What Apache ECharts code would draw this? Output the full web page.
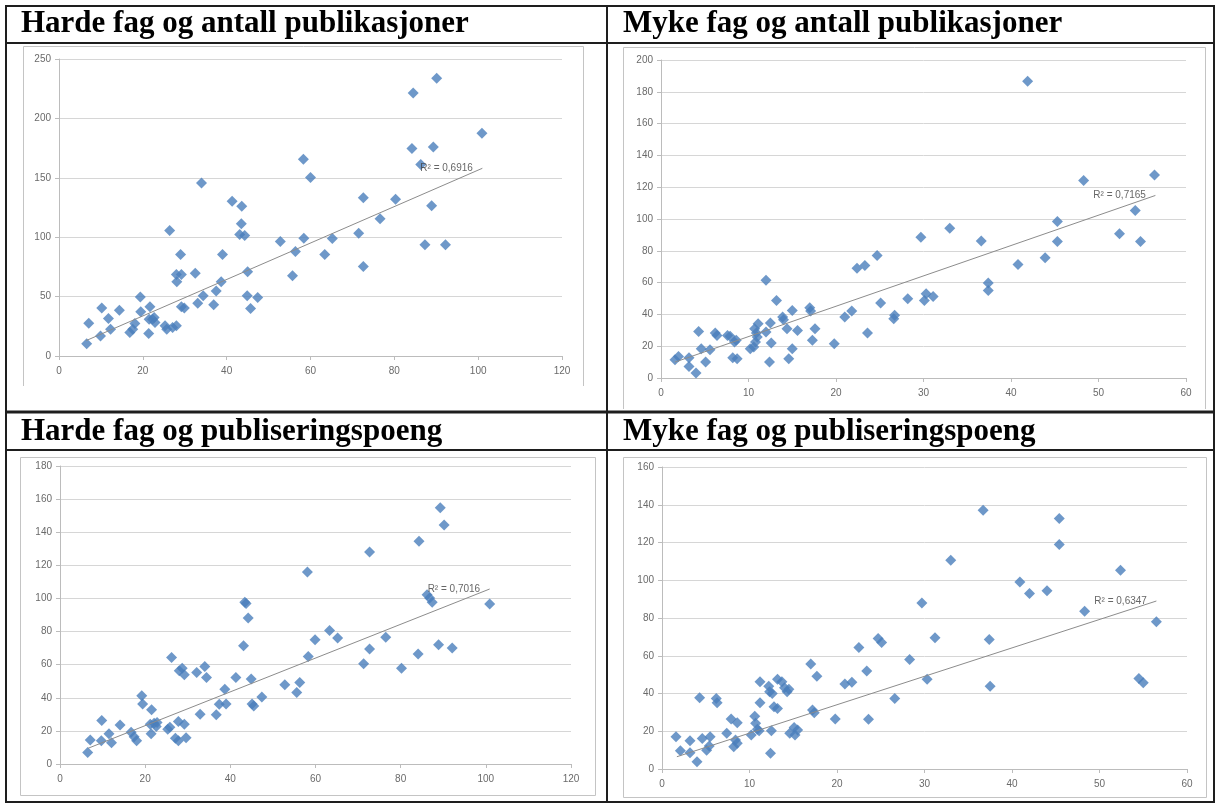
<!DOCTYPE html>
<html><head><meta charset="utf-8">
<script src="https://cdn.jsdelivr.net/npm/echarts/dist/echarts.min.js"></script>
<style>html,body{margin:0;padding:0;background:#fff}#c{width:1216px;height:803px}</style>
</head><body><div id="c"></div><script>
// ---- titles ----
var titles = ['Harde fag og antall publikasjoner','Myke fag og antall publikasjoner','Harde fag og publiseringspoeng','Myke fag og publiseringspoeng'];
var r2Labels = ['R\u00b2 = 0,6916','R\u00b2 = 0,7165','R\u00b2 = 0,7016','R\u00b2 = 0,6347'];

// ---- Harde fag og antall publikasjoner ----
var hardPubX = [6.6,7.1,9.9,10.2,11.8,12.3,14.4,16.9,17.6,18.1,19.4,19.5,21.4,21.5,21.7,22.3,22.7,22.9,25.3,25.7,26.4,27.1,28,28,28.1,29,29.2,29.2,29.9,32.5,33.1,34,34.4,36.9,37.5,38.7,39,41.3,43.1,43.5,43.6,44.3,44.9,45,45.7,47.4,52.8,55.7,56.4,58.3,58.4,60,63.4,65.2,71.5,72.6,72.6,76.6,80.3,84.2,84.5,86.3,87.3,88.9,89.3,90.1,92.2,100.9];
var hardPubY = [10.4,27.6,16.9,40.3,31.6,22.5,38.6,19.7,22.5,27.3,49.6,37.2,18.9,31,41.4,31,32.4,28.2,25.4,22.5,105.7,24,25.4,68.5,62.6,85.4,68.5,41.4,40.3,69.6,44.5,145.7,50.7,43.1,54.7,62.6,85.4,130.2,102.3,111.3,126,101.5,50.7,71,40,49.3,96.4,67.6,87.9,165.7,99.2,150.2,85.4,98.9,103.4,133.3,75.3,115.6,131.9,174.7,221.3,161.2,93.6,126.5,175.9,233.9,93.6,187.4];

// ---- Myke fag og antall publikasjoner ----
var softPubX = [1.6,2,3.2,3.2,4,4.3,4.6,5.1,5.6,6.2,6.4,7.6,7.9,8.2,8.4,8.6,8.7,10.2,10.6,10.7,10.8,10.9,11,11.1,12,12,12.4,12.5,12.6,13.2,13.9,14,14.4,14.6,15,15,15.6,17,17.1,17.3,17.6,19.8,21,21.8,22.4,23.3,23.6,24.7,25.1,26.6,26.7,28.2,29.7,30.1,30.3,31.1,33,36.6,37.4,37.4,40.8,41.9,43.9,45.3,45.3,48.3,52.4,54.2,54.8,56.4];
var softPubY = [11.5,13.6,12.8,7.3,3.1,29.3,18.4,10,17.8,28.3,26.8,26.8,26.2,12.8,22.6,23.7,12.1,18.4,19.5,31,22.6,28.3,25.8,34.1,61.4,28.9,10,34.6,22,48.8,38.3,36.6,31,12.1,42.5,18.4,29.9,44.2,42.1,23.7,31,21.6,38.3,42.1,69.1,70.8,28.3,77.1,47.1,37.3,39.4,49.8,88.6,48.8,53,51.3,94.2,86.1,59.7,55.1,71.4,186.6,75.6,98.4,85.9,124.2,90.7,105.3,85.9,127.7];

// ---- Harde fag og publiseringspoeng ----
var hardPoengX = [6.5,7.1,9.7,9.8,11.5,12.1,14.1,16.7,17.4,18,19.2,19.4,21.4,21.2,21.5,22.1,22.6,22.8,25.3,25.8,26.2,27.1,27.8,27.8,28,28.7,29.2,29.2,29.6,32.1,32.9,34,34.4,36.7,37.4,38.7,39,41.3,43.1,43.4,43.7,44.2,44.9,45.1,45.5,47.4,52.8,55.6,56.3,58.1,58.3,59.9,63.3,65.2,71.3,72.7,72.7,76.5,80.2,84.1,84.3,86.2,86.8,87.4,88.9,89.3,90.2,92.1,100.9];
var hardPoengY = [6.9,14.5,14.1,26.2,18.2,12.9,23.6,19.2,16.5,14.1,41.2,36.3,18.2,24,32.7,24.6,22.6,25,21,22.2,64.4,15.5,14.1,25.6,56.3,57.9,53.9,24,15.9,55.3,30,58.9,52.3,29.7,36.1,45.2,36.3,52.3,71.4,97.7,96.9,88.2,51.3,36.3,35.1,40.4,47.8,43.2,49.2,116,65,75.1,80.7,76.1,60.5,128.1,69.4,76.5,57.9,66.4,134.6,102.3,100.3,97.7,72,154.8,144.3,70,96.7];

// ---- Myke fag og publiseringspoeng ----
var softPoengX = [1.6,2.1,3.2,3.2,4,4.3,4.6,5.1,5.4,5.5,6.2,6.3,7.4,7.9,8.2,8.4,8.6,8.6,10.2,10.6,10.7,10.9,11.1,11.2,11.2,12.2,12.3,12.4,12.5,12.6,12.8,13.2,13.2,13.7,14,14.3,14.5,14.6,15.1,15.2,15.5,17,17.2,17.4,17.7,19.8,20.9,21.7,22.5,23.4,23.6,24.7,25.1,26.6,28.3,29.7,30.3,31.2,33,36.7,37.4,37.5,40.9,42,44,45.4,45.4,48.3,52.4,54.5,55,56.5];
var softPoengY = [17.1,9.7,15,8.6,3.9,37.7,16.2,10,12.2,17.1,37.4,35.1,18.9,26.5,11.8,15.3,13.6,24.5,18,28,24.2,21,20.3,35.1,46.2,43.9,40.9,8.3,20.3,40,33,32.1,47.5,46.2,43,40.9,42.2,18.9,22,18,20.6,55.6,31.2,29.8,49.2,26.5,45,45.9,64.4,51.9,26.3,69.1,67,37.4,58,88,47.5,69.5,110.6,137.1,68.6,43.9,99.1,93,94.5,118.9,132.7,83.6,105.3,48,45.7,78];

// ---- trendline end points [x0,y0,x1,y1] ----
var trendHardPub = [6.5,13,101,158];
var trendSoftPub = [1.6,10,56.5,114.8];
var trendHardPoeng = [6.6,9.5,100.9,105.7];
var trendSoftPoeng = [1.7,6.5,56.5,89];

// ---- axis ticks ----
var xMaxs = [120,60,120,60], xInts = [20,10,20,10];
var yMaxs = [250,200,180,160], yInts = [50,20,20,20];

var grids = [
  {left:59, top:59, width:503, height:297},
  {left:661, top:60, width:525, height:318},
  {left:60, top:466, width:511, height:298},
  {left:662, top:467, width:525, height:302}
];
var xsAll = [hardPubX, softPubX, hardPoengX, softPoengX];
var ysAll = [hardPubY, softPubY, hardPoengY, softPoengY];
var trends = [trendHardPub, trendSoftPub, trendHardPoeng, trendSoftPoeng];

var axisColor = '#bcbcbc', gridColor = '#d6d6d6', labelColor = '#6a6a6a';
var option = {animation:false, backgroundColor:'#fff', grid:[], xAxis:[], yAxis:[], series:[], graphic:[]};
for (var i=0;i<4;i++){
  var g = grids[i];
  option.grid.push({left:g.left, top:g.top, width:g.width, height:g.height, containLabel:false});
  option.xAxis.push({gridIndex:i, type:'value', min:0, max:xMaxs[i], interval:xInts[i],
    axisLine:{show:true, onZero:false, lineStyle:{color:axisColor}},
    axisTick:{show:true, length:4, lineStyle:{color:axisColor}},
    splitLine:{show:false},
    axisLabel:{color:labelColor, fontSize:10, fontFamily:'Liberation Sans', margin:10}});
  option.yAxis.push({gridIndex:i, type:'value', min:0, max:yMaxs[i], interval:yInts[i],
    axisLine:{show:true, onZero:false, lineStyle:{color:axisColor}},
    axisTick:{show:true, length:4, lineStyle:{color:axisColor}},
    splitLine:{show:true, lineStyle:{color:gridColor, width:1}},
    axisLabel:{color:labelColor, fontSize:10, fontFamily:'Liberation Sans', margin:8}});
  var pts = [];
  for (var k=0;k<xsAll[i].length;k++) pts.push([xsAll[i][k], ysAll[i][k]]);
  option.series.push({type:'scatter', xAxisIndex:i, yAxisIndex:i, symbol:'diamond', symbolSize:11,
    itemStyle:{color:'#4a7ebb'}, data:pts, z:2, silent:true});
  var t = trends[i];
  option.series.push({type:'line', xAxisIndex:i, yAxisIndex:i, data:[[t[0],t[1]],[t[2],t[3]]],
    showSymbol:false, symbol:'none', lineStyle:{color:'#8c8c8c', width:1}, z:3, silent:true});
  option.series.push({type:'scatter', xAxisIndex:i, yAxisIndex:i, data:[[t[2],t[3]]], symbolSize:1,
    itemStyle:{color:'rgba(0,0,0,0)'}, z:4, silent:true,
    label:{show:true, position:'left', distance:9, formatter:r2Labels[i], fontSize:10,
      fontFamily:'Liberation Sans', color:'#404040'}});
}
// table structure
var tc = '#1e1e1e';
function ln(x1,y1,x2,y2,w,c){return {type:'line', shape:{x1:x1,y1:y1,x2:x2,y2:y2}, style:{stroke:c, lineWidth:w}, silent:true, z:10};}
function pl(p,c){return {type:'polyline', shape:{points:p}, style:{stroke:c, lineWidth:1, fill:null}, silent:true, z:1};}
var titleFont = 'bold 31px "Liberation Serif"';
option.graphic = [
  pl([[23.5,386],[23.5,46.5],[583.5,46.5],[583.5,386]], '#c4c4c4'),
  pl([[623.5,409],[623.5,47.5],[1205.5,47.5],[1205.5,409]], '#c4c4c4'),
  pl([[20.5,457.5],[595.5,457.5],[595.5,795.5],[20.5,795.5],[20.5,457.5]], '#c4c4c4'),
  pl([[623.5,457.5],[1206.5,457.5],[1206.5,797.5],[623.5,797.5],[623.5,457.5]], '#c4c4c4'),
  ln(5,6,1215,6,2,tc), ln(6,5,6,803,2,tc), ln(1214,5,1214,803,2,tc), ln(5,802,1215,802,2,tc),
  ln(5,43,1215,43,2,tc), ln(5,412,1215,412,3,tc), ln(5,450,1215,450,2,tc), ln(607,5,607,803,2,tc),
  {type:'text', x:21, y:24, style:{text:titles[0], font:titleFont, fill:'#000', verticalAlign:'middle'}, z:11},
  {type:'text', x:623, y:24, style:{text:titles[1], font:titleFont, fill:'#000', verticalAlign:'middle'}, z:11},
  {type:'text', x:21, y:432, style:{text:titles[2], font:titleFont, fill:'#000', verticalAlign:'middle'}, z:11},
  {type:'text', x:623, y:432, style:{text:titles[3], font:titleFont, fill:'#000', verticalAlign:'middle'}, z:11}
];
var chart = echarts.init(document.getElementById('c'), null, {renderer:'canvas', width:1216, height:803});
chart.setOption(option);
</script></body></html>
